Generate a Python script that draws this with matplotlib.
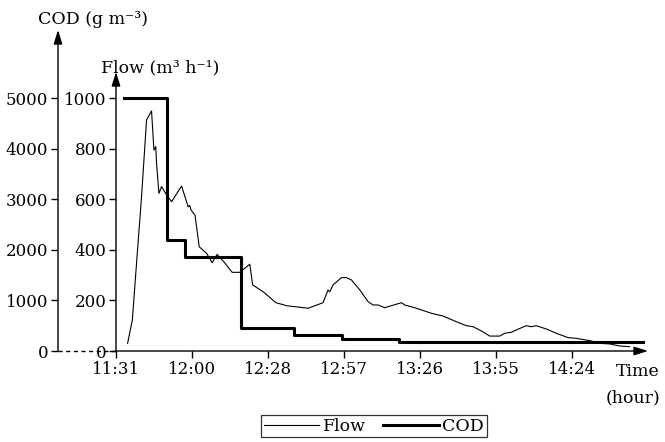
import matplotlib
matplotlib.use("Agg")
import matplotlib.pyplot as plt
import numpy as np

# minutes after 11:31
flow_t = [4.4, 6.2, 7.8, 9.7, 11.6, 13.5, 14.4, 15.1, 15.4, 16.3, 17.3, 19.2, 21.1,
          24.9, 27.4, 28.0, 28.5, 30.0, 31.6, 34.4, 36.5, 38.4, 41.4, 44.1, 47.0,
          50.8, 51.9, 55.9, 60.7, 64.8, 73.0, 78.6, 80.5, 81.2, 82.4, 85.6, 87.5,
          89.4, 92.6, 95.7, 97.6, 99.5, 102.0, 108.4, 109.6, 114.1, 119.8, 124.2,
          129.2, 133.0, 135.6, 139.3, 141.9, 145.7, 147.6, 150.1, 152.6, 155.8,
          157.7, 159.6, 163.4, 167.2, 171.6, 174.8, 179.8, 184.3, 187.4, 191.2, 195.0]
flow = [30, 122, 347, 610, 913, 949, 794, 808, 742, 623, 650, 617, 590,
        652, 570, 575, 557, 537, 412, 386, 349, 382, 347, 311, 311,
        343, 261, 234, 191, 179, 169, 191, 241, 234, 261, 290, 290,
        281, 241, 195, 182, 182, 171, 191, 182, 169, 149, 138,
        116, 100, 96, 76, 59, 59, 70, 74, 86, 100,
        96, 100, 87, 70, 53, 50, 41, 30, 28, 20, 17]

cod_t = [3.0, 19.2, 26.2, 47.4, 67.6, 86.0, 107.5, 200.0]
cod = [5000, 2190, 1865, 445, 315, 235, 180, 180]

time_labels = ["11:31", "12:00", "12:28", "12:57", "13:26", "13:55", "14:24"]
flow_ticks = [0, 200, 400, 600, 800, 1000]
cod_ticks = [0, 1000, 2000, 3000, 4000, 5000]

plt.rcParams.update({
    "font.family": "DejaVu Serif",
    "font.size": 12,
})

W, H = 665, 442
fig = plt.figure(figsize=(W / 100, H / 100), dpi=100)
x0, x1, y0, y1 = 116, 648, 351, 75
ax = fig.add_axes([x0 / W, 1 - y0 / H, (x1 - x0) / W, (y0 - y1) / H])
ax2 = ax.twinx()

ymax = 1091
xmax = 202
ax.set_xlim(0, xmax)
ax.set_ylim(0, ymax)
ax2.set_ylim(0, ymax * 5)

l1, = ax.plot(flow_t, flow, color="black", lw=0.8, label="Flow")
l2, = ax2.step(cod_t, cod, where="post", color="black", lw=2.2, label="COD")

for a in (ax, ax2):
    for s in a.spines.values():
        s.set_visible(False)

ax.set_xticks(np.linspace(0, 173, 7), time_labels)
ax.set_yticks(flow_ticks)
ax2.set_yticks(cod_ticks)
ax2.yaxis.set_ticks_position("left")
ax2.yaxis.set_label_position("left")
cod_x = -(x0 - 58) / (x1 - x0)
ax2.spines["left"].set_position(("axes", cod_x))
ax2.spines["left"].set_visible(True)
ax2.spines["left"].set_color("none")
for a in (ax, ax2):
    a.tick_params(length=5, width=1, color="black", labelsize=12, pad=2)

# axis lines with arrowheads
arrow = dict(arrowstyle="-|>,head_length=0.7,head_width=0.22", color="black", lw=1,
             shrinkA=0, shrinkB=0)
ax.annotate("", xy=(1, 0), xytext=(0, 0), xycoords="axes fraction", arrowprops=arrow)
ax.annotate("", xy=(0, (y0 - 72) / (y0 - y1)), xytext=(0, 0),
            xycoords="axes fraction", arrowprops=arrow)
ax.annotate("", xy=(cod_x, (y0 - 30) / (y0 - y1)), xytext=(cod_x, 0),
            xycoords="axes fraction", arrowprops=arrow)
ax.plot([cod_x, 0], [0, 0], transform=ax.transAxes, color="black", lw=1,
        ls=(0, (3, 2.5)), clip_on=False)

fig.text(93 / W, 1 - 20 / H, "COD (g m⁻³)", ha="center", va="center", fontsize=12.5)
fig.text(160 / W, 1 - 68 / H, "Flow (m³ h⁻¹)", ha="center", va="center", fontsize=12.5)
fig.text(660 / W, 1 - 372 / H, "Time", ha="right", va="center", fontsize=12.5)
fig.text(660 / W, 1 - 398 / H, "(hour)", ha="right", va="center", fontsize=12.5)

leg = fig.legend([l1, l2], ["Flow", "COD"], loc="upper center",
                 bbox_to_anchor=(374 / W, 1 - 415 / H), ncol=2, frameon=True,
                 fancybox=False, edgecolor="black", handlelength=3.2,
                 handletextpad=0.2, columnspacing=1.0, borderpad=0.15,
                 borderaxespad=0, fontsize=12.5)
leg.get_frame().set_linewidth(0.9)

fig.savefig("out.png", dpi=100, facecolor="white")
